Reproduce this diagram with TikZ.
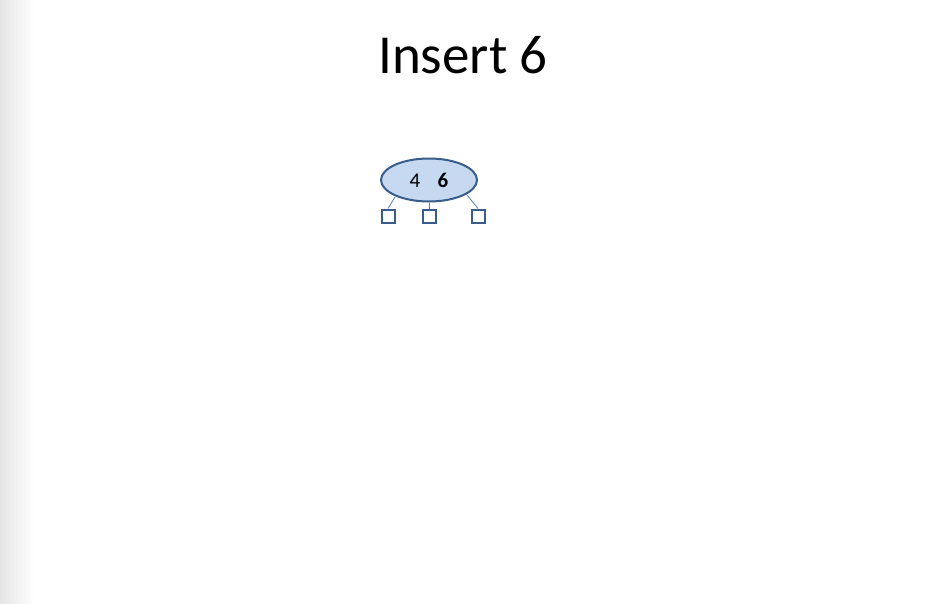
\documentclass[tikz,border=0pt]{standalone}
\usepackage{fontspec}
\setmainfont{Carlito}
\usetikzlibrary{shapes.geometric}
\definecolor{nodefill}{RGB}{198,217,240}
\definecolor{nodeline}{RGB}{56,93,138}
\definecolor{edgeline}{RGB}{79,129,189}
\tikzset{
  keynode/.style={ellipse, draw=nodeline, line width=2pt, fill=nodefill, minimum width=96pt, minimum height=43pt, inner sep=0pt},
  leafbox/.style={rectangle, draw=nodeline, line width=2pt, fill=white, minimum size=13pt, inner sep=0pt},
  edge/.style={draw=edgeline, line width=0.8pt}
}
\begin{document}
\begin{tikzpicture}[x=1pt,y=-1pt]
\useasboundingbox (0,0) rectangle (925,604);
\fill[white] (0,0) rectangle (925,604);
\shade[left color=black!10, right color=white] (0,0) rectangle (34,604);
\node[font=\fontsize{55}{60}\selectfont, anchor=base] (title) at (463,74) {Insert 6};
\node[keynode] (root) at (429,180) {};
\node[font=\fontsize{21}{24}\selectfont, anchor=base] (k1) at (415,187.5) {4};
\node[font=\fontsize{21}{24}\selectfont\bfseries, anchor=base] (k2) at (443,187.5) {6};
\node[leafbox] (l1) at (388,216) {};
\node[leafbox] (l2) at (429,216) {};
\node[leafbox] (l3) at (478,216) {};
\coordinate (r1) at (395,197);
\coordinate (r3) at (467,195);
\draw[edge] (r1) -- (l1.north);
\draw[edge] (root.south) -- (l2.north);
\draw[edge] (r3) -- (l3.north);
\end{tikzpicture}
\end{document}
